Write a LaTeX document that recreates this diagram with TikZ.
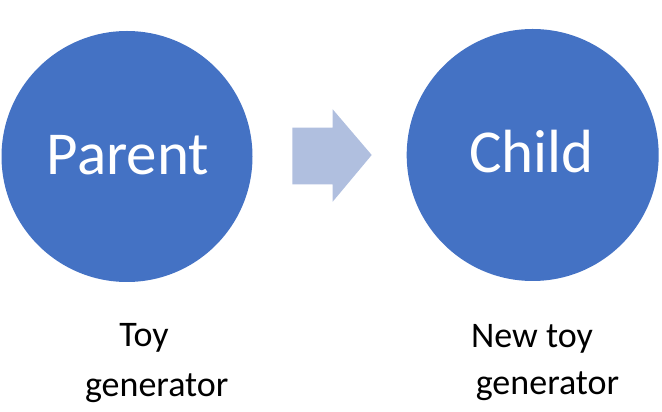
\documentclass[tikz,border=0pt]{standalone}
\usepackage{fontspec}
\setmainfont{Carlito}
\definecolor{circblue}{HTML}{4472C4}
\definecolor{arrowblue}{HTML}{B0BFDF}
\begin{document}
\begin{tikzpicture}[x=1pt,y=1pt,
  circ/.style={circle,fill=circblue,draw=none,inner sep=0pt},
  bigtext/.style={text=white,anchor=base,inner sep=0pt,font=\fontsize{61}{72}\selectfont},
  lbl/.style={text=black,anchor=base,inner sep=0pt,font=\fontsize{36}{42}\selectfont}]
\useasboundingbox (0,0) rectangle (662,412);
\node[circ,minimum size=251pt] (parent) at (127,255.5) {};
\node[circ,minimum size=252pt] (child) at (532.7,257) {};
\node[bigtext] (ptext) at (128,237) {Parent};
\node[bigtext] (ctext) at (531.5,239) {Child};
\fill[arrowblue] (292.3,284.3) -- (332.7,284.3) -- (332.7,302.7) -- (371.7,257)
  -- (332.7,210.3) -- (332.7,227.7) -- (292.3,227.7) -- cycle;
\node[lbl] (toy) at (144,65) {Toy};
\node[lbl] (gen1) at (156.7,15.3) {generator};
\node[lbl] (newtoy) at (532,64) {New toy};
\node[lbl] (gen2) at (547.5,17) {generator};
\end{tikzpicture}
\end{document}
